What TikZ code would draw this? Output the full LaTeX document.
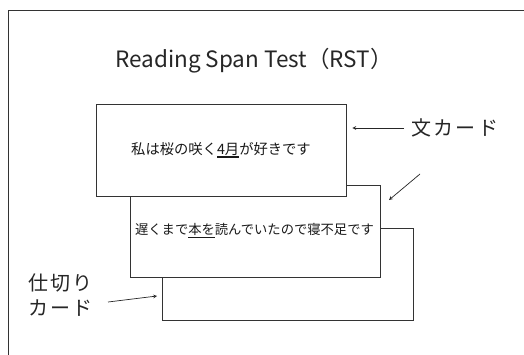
\documentclass[tikz,border=0pt]{standalone}
\usepackage{fontspec}
\setmainfont{Noto Sans CJK JP}
\newfontfamily\spacedfont[LetterSpace=12]{Noto Sans CJK JP}
\usepackage{tikz}

\newcommand{\thickul}[1]{\setbox0\hbox{#1}\rlap{\rule[-3.4pt]{\wd0}{1.7pt}}\box0}

\tikzset{
    card/.style={draw=black!80,fill=white,line width=0.8pt,minimum width=250pt,minimum height=92pt,inner sep=0pt,font=\fontsize{14.3}{16}\selectfont,text=black!90},
    label/.style={font=\spacedfont\fontsize{20}{24}\selectfont,text=black!85,inner sep=0pt},
    pointer/.style={->,draw=black!85,line width=0.7pt}
}

\begin{document}
\begin{tikzpicture}[> = stealth,x=1pt,y=-1pt]
            \useasboundingbox (0,0) rectangle (524,354);
            \fill[white] (0,0) rectangle (524,354);
            % frame
            \draw[black!80,line width=0.9pt] (8,360) -- (8,10) -- (530,10);
            \node[font=\fontsize{22.5}{26}\selectfont,text=black!85] (title) at (254,61) {Reading Span Test（RST）};
            % cards, back to front
            \node[card,minimum width=251pt] (card3) at (287.5,274) {};
            \node[card,font=\fontsize{13.3}{16}\selectfont] (card2) at (255,231) {\kern-1pt遅くまで\thickul{本を}読んでいたので寝不足です};
            \node[card] (card1) at (221,150) {私は桜の咲く\thickul{4月}が好きです};
            % labels
            \node[label,anchor=west] (bun) at (411,128) {文カード};
            \node[label,align=left,anchor=west] (shikiri) at (28,295) {仕切り\\[1pt]カード};
            \coordinate (bunend) at ([xshift=6pt]card1.east |- bun);
            \coordinate (bunfrom) at (420,174);
            \coordinate (bunto) at (389,200);
            \coordinate (shikirifrom) at (108,302);
            \coordinate (shikirito) at (157,296);
            \draw[pointer,shorten <=7pt] (bun.west) -- (bunend);
            \draw[pointer] (bunfrom) -- (bunto);
            \draw[pointer] (shikirifrom) -- (shikirito);
        \end{tikzpicture}
\end{document}
